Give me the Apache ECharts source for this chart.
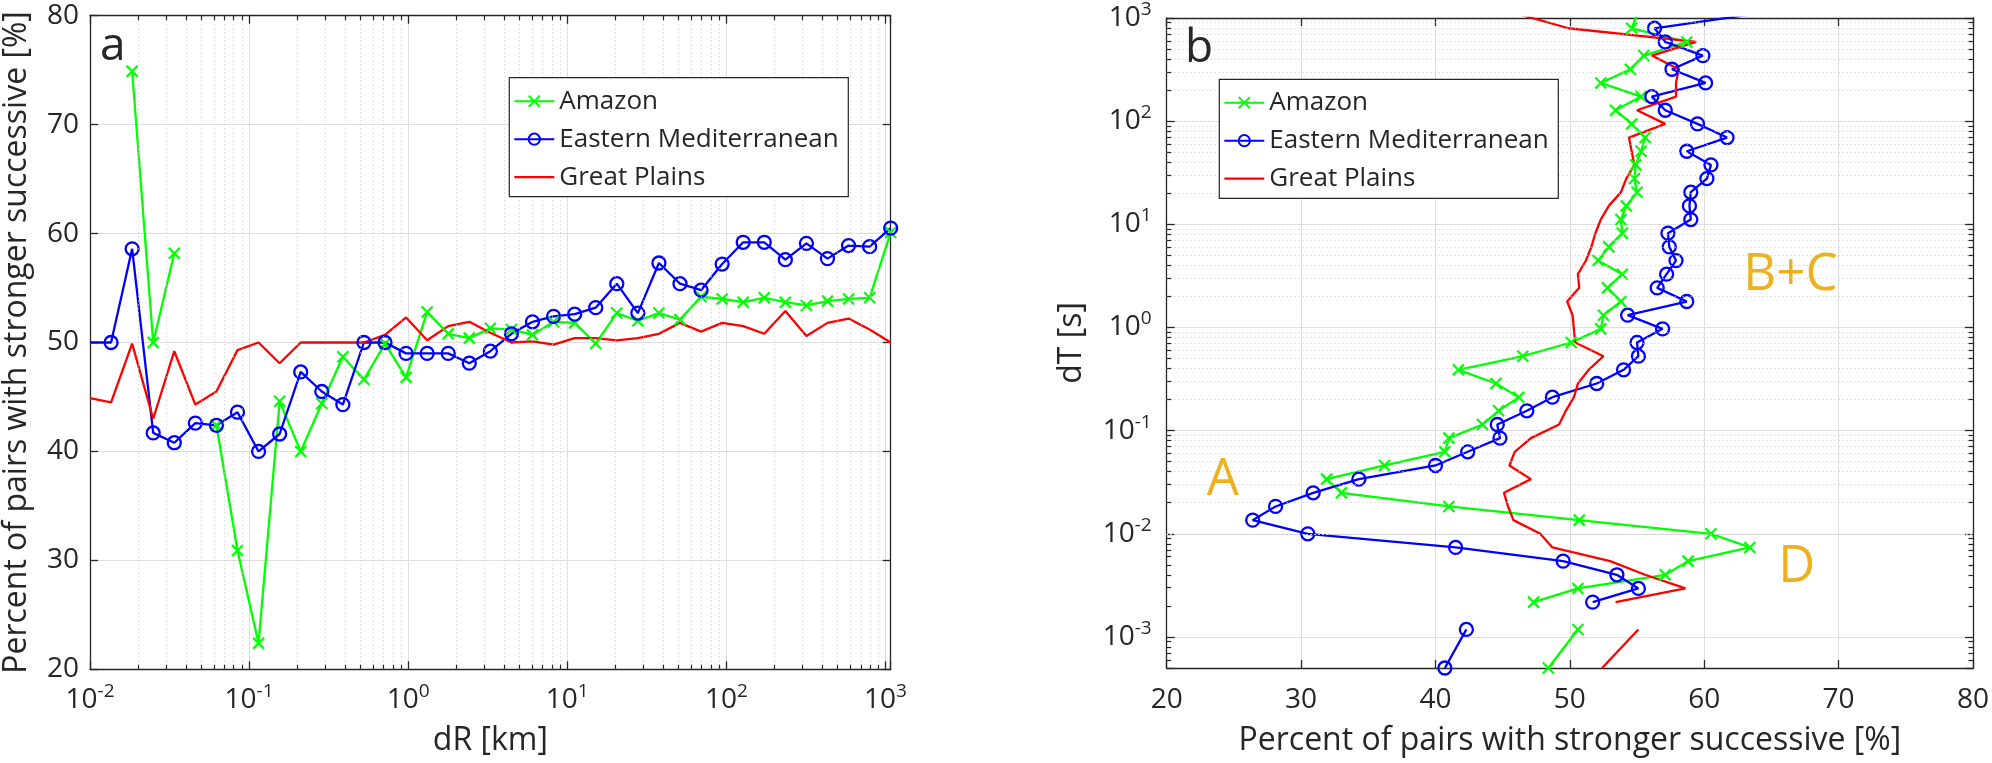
<!DOCTYPE html>
<html><head><meta charset="utf-8">
<script src="https://cdn.jsdelivr.net/npm/echarts@6/dist/echarts.min.js"></script>
<style>html,body{margin:0;padding:0;background:#fff}#c{width:1992px;height:763px}</style>
</head><body><div id="c"></div>
<script>
// ---------- data ----------
const seriesNames = ['Amazon', 'Eastern Mediterranean', 'Great Plains'];
// panel a: dR bins [km]
const dR = [0.01, 0.013566, 0.018403, 0.024965, 0.033867, 0.045943, 0.062325, 0.084549, 0.11470, 0.15560,
  0.21108, 0.28635, 0.38845, 0.52697, 0.71487, 0.96978, 1.3156, 1.7847, 2.4211, 3.2844,
  4.4555, 6.0443, 8.1995, 11.123, 15.090, 20.470, 27.770, 37.672, 51.105, 69.328,
  94.048, 127.58, 173.08, 234.79, 318.52, 432.10, 586.17, 795.19, 1078.7];
const amazonR = [null, null, 74.9, 50.0, 58.2, null, 42.4, 30.9, 22.4, 44.6,
  40.0, 44.4, 48.7, 46.6, 49.9, 46.8, 52.8, 50.8, 50.4, 51.3,
  51.2, 50.7, 51.9, 51.8, 49.9, 52.7, 52.0, 52.7, 52.1, 54.2,
  54.0, 53.7, 54.1, 53.7, 53.4, 53.8, 54.0, 54.1, 60.1];
const easternMedR = [50.0, 50.0, 58.6, 41.7, 40.8, 42.6, 42.4, 43.6, 40.0, 41.6,
  47.3, 45.5, 44.3, 50.0, 50.0, 49.0, 49.0, 49.0, 48.1, 49.2,
  50.8, 51.9, 52.4, 52.6, 53.2, 55.4, 52.7, 57.3, 55.4, 54.8,
  57.2, 59.2, 59.2, 57.6, 59.1, 57.7, 58.9, 58.8, 60.5];
const greatPlainsR = [44.9, 44.5, 49.9, 43.0, 49.2, 44.3, 45.5, 49.3, 50.0, 48.1,
  50.0, 50.0, 50.0, 50.0, 50.7, 52.3, 50.2, 51.5, 51.9, 50.9,
  50.0, 50.1, 49.8, 50.4, 50.4, 50.2, 50.4, 50.8, 51.8, 51.0,
  51.8, 51.5, 50.8, 52.9, 50.6, 51.8, 52.2, 51.2, 50.0];
// panel b: dT bins [s]
const dT = [1078.7, 795.19, 586.17, 432.10, 318.52, 234.79, 173.08, 127.58, 94.048, 69.328,
  51.105, 37.672, 27.770, 20.470, 15.090, 11.123, 8.1995, 6.0443, 4.4555, 3.2844,
  2.4211, 1.7847, 1.3156, 0.96978, 0.71487, 0.52697, 0.38845, 0.28635, 0.21108, 0.15560,
  0.11470, 0.084549, 0.062325, 0.045943, 0.033867, 0.024965, 0.018403, 0.013566, 0.01, 0.0073715,
  0.0054339, 0.0040056, 0.0029527, 0.0021766, 0.0016045, 0.0011827, 0.0005];
const amazonT = [55.0, 54.6, 58.7, 55.5, 54.5, 52.3, 55.3, 53.4, 54.6, 55.6,
  55.3, 54.9, 54.8, 55.0, 54.2, 53.8, 53.9, 52.9, 52.1, 53.9,
  52.8, 53.8, 52.5, 52.3, 50.1, 46.5, 41.7, 44.5, 46.2, 44.7,
  43.5, 41.0, 40.7, 36.2, 31.9, 33.0, 41.0, 50.7, 60.5, 63.4,
  58.8, 57.1, 50.6, 47.3, null, 50.6, 48.4];
const easternMedT = [63.4, 56.3, 57.1, 59.9, 57.6, 60.1, 56.1, 57.1, 59.5, 61.7,
  58.7, 60.5, 60.2, 59.0, 58.9, 59.0, 57.3, 57.4, 57.9, 57.2,
  56.5, 58.7, 54.3, 56.9, 55.0, 55.1, 54.0, 52.0, 48.7, 46.8,
  44.6, 44.8, 42.4, 40.0, 34.3, 30.9, 28.1, 26.4, 30.5, 41.5,
  49.5, 53.5, 55.1, 51.7, null, 42.3, 40.7];
const greatPlainsT = [46.3, 49.9, 59.4, 56.1, 58.1, 57.9, 57.9, 55.0, 57.1, 54.4,
  54.6, 54.8, 54.2, 53.8, 52.9, 52.3, 51.9, 51.6, 51.2, 50.6,
  50.7, 49.8, 50.2, 50.3, 50.4, 52.5, 51.4, 50.6, 50.3, 49.7,
  49.2, 47.1, 45.9, 45.5, 47.1, 45.1, 45.4, 45.8, 47.8, 48.7,
  53.0, 55.6, 58.6, 53.4, null, 55.1, 52.4];
const percentMin = 20, percentMax = 80, percentStep = 10;
const dTmax = 1000;
const annotations = ['A', 'B+C', 'D'];

// ---------- styling ----------
const FONT = "'Open Sans', 'Noto Sans', sans-serif";
const INK = '#262626';
const GREEN = '#00ff00', BLUE = '#0000ff', RED = '#ff0000', ORANGE = '#EDB120';
const gridA = {left: 87.3, top: 15.7, width: 803.4, height: 653.6};
const gridB = {left: 1166.7, top: 15.7, width: 806.6, height: 652.3};

function pow10Label(v) {
  const e = Math.log10(v), n = Math.round(e);
  if (Math.abs(e - n) > 1e-6) return '';
  return '{b|10}{s|' + n + '}';
}
const richSup = {
  b: {fontFamily: FONT, fontSize: 28, color: INK, lineHeight: 28, verticalAlign: 'bottom'},
  s: {fontFamily: FONT, fontSize: 19, color: INK, lineHeight: 19, padding: [0, 0, 13, 0], verticalAlign: 'bottom'}
};
const axisLine = {show: true, onZero: false, lineStyle: {color: INK, width: 1.3}};
const axisTick = {show: true, inside: true, length: 8, lineStyle: {color: INK, width: 1.3}};
const majorGrid = {show: true, lineStyle: {color: '#dedede', width: 1}};
const nameStyle = {fontFamily: FONT, fontSize: 32, lineHeight: 32, color: INK};
const plainLabel = {fontFamily: FONT, fontSize: 28, color: INK, lineHeight: 28};

function minorDecades(lo, hi) {
  const out = [];
  for (let n = -6; n <= 5; n++) for (let d = 2; d <= 9; d++) {
    const v = Number((d * Math.pow(10, n)).toPrecision(6));
    if (v > lo && v < hi) out.push(v);
  }
  return out;
}
const minorR = minorDecades(dR[0], dR[dR.length - 1]);
const minorT = minorDecades(dT[dT.length - 1], dTmax);
const gridDot = {color: '#cbcbcb', width: 1, type: [1, 3]};
const tickStyle = {color: INK, width: 1.2, type: 'solid'};
const tA = (percentMax - percentMin) * 4.5 / gridA.height;
const tB = (percentMax - percentMin) * 4.5 / gridB.width;
const mlA = [].concat(
  minorR.map(v => ({xAxis: v, lineStyle: gridDot})),
  minorR.map(v => [{coord: [v, percentMin], lineStyle: tickStyle}, {coord: [v, percentMin + tA]}]),
  minorR.map(v => [{coord: [v, percentMax], lineStyle: tickStyle}, {coord: [v, percentMax - tA]}])
);
const mlB = [].concat(
  minorT.map(v => ({yAxis: v, lineStyle: gridDot})),
  minorT.map(v => [{coord: [percentMin, v], lineStyle: tickStyle}, {coord: [percentMin + tB, v]}]),
  minorT.map(v => [{coord: [percentMax, v], lineStyle: tickStyle}, {coord: [percentMax - tB, v]}])
);
function helper(xi, yi, data) {
  return {type: 'line', xAxisIndex: xi, yAxisIndex: yi, data: [], z: 1, silent: true,
    markLine: {silent: true, animation: false, symbol: ['none', 'none'], label: {show: false},
      emphasis: {disabled: true}, data: data}};
}

const xSym = 'path://M0,0L10,10M0,10L10,0';
const barIcon = 'path://M0,0H40V2.3H0Z';
const styles = [
  {symbol: xSym, symbolSize: 11, lineStyle: {color: GREEN, width: 2.3}, itemStyle: {color: GREEN, borderColor: GREEN, borderWidth: 2.2}},
  {symbol: 'circle', symbolSize: 13, lineStyle: {color: BLUE, width: 2.3}, itemStyle: {color: 'rgba(0,0,0,0)', borderColor: BLUE, borderWidth: 2.3}},
  {symbol: 'none', showSymbol: false, lineStyle: {color: RED, width: 2.3}, itemStyle: {color: RED}}
];
function lineSeries(i, xi, yi, data) {
  return Object.assign({type: 'line', name: seriesNames[i], xAxisIndex: xi, yAxisIndex: yi, data: data,
    animation: false, clip: true, connectNulls: false, emphasis: {disabled: true}}, styles[i]);
}
const rData = arr => dR.map((r, i) => [r, arr[i]]);
const tData = arr => dT.map((t, i) => [arr[i], t]);
const emR = rData(easternMedR);
emR[0] = {value: emR[0], symbol: 'none'};

const legendBase = {orient: 'vertical', itemWidth: 40, itemHeight: 14, itemGap: 10, padding: 0,
  selectedMode: false, z: 12,
  data: [{name: seriesNames[0]}, {name: seriesNames[1]}, {name: seriesNames[2], icon: barIcon}],
  textStyle: {fontFamily: FONT, fontSize: 26, lineHeight: 28, color: INK}};

const option = {
  backgroundColor: '#fff',
  animation: false,
  grid: [gridA, gridB],
  xAxis: [
    {type: 'log', logBase: 10, gridIndex: 0, min: dR[0], max: dR[dR.length - 1], position: 'bottom',
      axisLine, axisTick, splitLine: majorGrid,
      axisLabel: {formatter: pow10Label, margin: 17, rich: richSup, showMinLabel: true, showMaxLabel: true},
      name: 'dR [km]', nameLocation: 'middle', nameGap: 55.5, nameTextStyle: nameStyle},
    {type: 'log', logBase: 10, gridIndex: 0, min: dR[0], max: dR[dR.length - 1], position: 'top',
      axisLine, axisTick, splitLine: {show: false}, axisLabel: {show: false}},
    {type: 'value', gridIndex: 1, min: percentMin, max: percentMax, interval: percentStep, position: 'bottom',
      axisLine, axisTick, splitLine: majorGrid, axisLabel: Object.assign({margin: 18}, plainLabel),
      name: 'Percent of pairs with stronger successive [%]', nameLocation: 'middle', nameGap: 56.5, nameTextStyle: nameStyle},
    {type: 'value', gridIndex: 1, min: percentMin, max: percentMax, interval: percentStep, position: 'top',
      axisLine, axisTick, splitLine: {show: false}, axisLabel: {show: false}}
  ],
  yAxis: [
    {type: 'value', gridIndex: 0, min: percentMin, max: percentMax, interval: percentStep, position: 'left',
      axisLine, axisTick, splitLine: majorGrid, axisLabel: Object.assign({margin: 11}, plainLabel),
      name: 'Percent of pairs with stronger successive [%]', nameLocation: 'middle', nameGap: 57, nameTextStyle: nameStyle},
    {type: 'value', gridIndex: 0, min: percentMin, max: percentMax, interval: percentStep, position: 'right',
      axisLine, axisTick, splitLine: {show: false}, axisLabel: {show: false}},
    {type: 'log', logBase: 10, gridIndex: 1, min: dT[dT.length - 1], max: dTmax, position: 'left',
      axisLine, axisTick, splitLine: majorGrid,
      axisLabel: {formatter: pow10Label, margin: 15, rich: richSup},
      name: 'dT [s]', nameLocation: 'middle', nameGap: 79, nameTextStyle: nameStyle},
    {type: 'log', logBase: 10, gridIndex: 1, min: dT[dT.length - 1], max: dTmax, position: 'right',
      axisLine, axisTick, splitLine: {show: false}, axisLabel: {show: false}}
  ],
  legend: [
    Object.assign({left: 513.3, top: 87.2}, legendBase),
    Object.assign({left: 1223.3, top: 88.7}, legendBase)
  ],
  graphic: [
    {type: 'rect', z: 10, silent: true, shape: {x: 509.3, y: 77.7, width: 339, height: 119},
      style: {fill: '#fff', stroke: INK, lineWidth: 1.2}},
    {type: 'rect', z: 10, silent: true, shape: {x: 1219.3, y: 79.3, width: 339, height: 119},
      style: {fill: '#fff', stroke: INK, lineWidth: 1.2}},
    {type: 'text', z: 12, silent: true, style: {text: 'a', x: 100, y: 47.2, font: '46px ' + FONT, fill: INK, align: 'left', verticalAlign: 'middle'}},
    {type: 'text', z: 12, silent: true, style: {text: 'b', x: 1185, y: 48.9, font: '46px ' + FONT, fill: INK, align: 'left', verticalAlign: 'middle'}},
    {type: 'text', z: 12, silent: true, style: {text: annotations[0], x: 1206.7, y: 480, font: '51px ' + FONT, fill: ORANGE, align: 'left', verticalAlign: 'middle'}},
    {type: 'text', z: 12, silent: true, style: {text: annotations[1], x: 1743.3, y: 275, font: '51px ' + FONT, fill: ORANGE, align: 'left', verticalAlign: 'middle'}},
    {type: 'text', z: 12, silent: true, style: {text: annotations[2], x: 1778.3, y: 567.5, font: '51px ' + FONT, fill: ORANGE, align: 'left', verticalAlign: 'middle'}}
  ],
  series: [
    helper(0, 0, mlA),
    helper(2, 2, mlB),
    lineSeries(0, 0, 0, rData(amazonR)),
    lineSeries(1, 0, 0, emR),
    lineSeries(2, 0, 0, rData(greatPlainsR)),
    lineSeries(0, 2, 2, tData(amazonT)),
    lineSeries(1, 2, 2, tData(easternMedT)),
    lineSeries(2, 2, 2, tData(greatPlainsT))
  ]
};
const chart = echarts.init(document.getElementById('c'), null, {renderer: 'canvas', width: 1992, height: 763});
chart.setOption(option);
</script>
</body></html>
